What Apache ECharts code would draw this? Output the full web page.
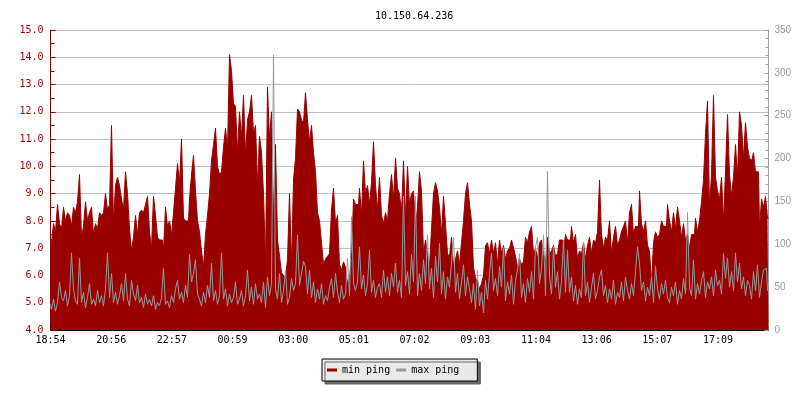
<!DOCTYPE html>
<html><head><meta charset="utf-8">
<script src="https://cdn.jsdelivr.net/npm/echarts@6.0.0/dist/echarts.min.js"></script>
<style>html,body{margin:0;padding:0;background:#fff}#c{width:800px;height:400px}</style>
</head><body><div id="c"></div>
<script>
const chartTitle = "10.150.64.236";
const seriesNames = ["min ping", "max ping"];
const tickLabels = ["18:54","20:56","22:57","00:59","03:00","05:01","07:02","09:03","11:04","13:06","15:07","17:09"];
const minutesPerSample = 4;
const minutesPerTick = 121.36;

// min ping (ms, left axis)
const minPing = [
7.3,7.2,7.9,7.6,8.6,7.9,7.7,8.5,8.0,8.3,
8.2,7.8,8.5,8.3,8.7,9.7,7.4,7.8,8.7,8.0,
8.3,8.5,7.5,7.9,7.7,8.3,8.2,8.3,9.0,8.4,
8.6,11.5,7.9,9.3,9.6,9.3,8.8,8.4,9.8,9.0,
7.7,6.9,7.4,8.2,7.5,8.3,8.4,8.3,8.6,8.9,
7.6,7.0,8.9,8.2,7.4,7.3,7.3,6.9,8.5,7.8,
8.0,7.5,8.3,9.2,10.1,9.4,11.0,8.1,8.0,8.0,
8.8,9.7,10.4,9.1,8.0,
7.6,6.9,6.3,7.5,8.2,9.0,10.2,10.8,11.4,10.0,
9.7,9.8,10.7,11.4,10.6,14.1,13.5,12.3,12.2,10.5,
12.0,11.1,12.6,10.4,11.7,12.0,12.6,11.2,11.5,9.3,
11.1,10.5,9.0,6.4,12.9,11.0,12.0,8.0,10.8,7.3,
6.7,6.1,6.0,5.9,6.6,9.0,6.4,9.5,10.3,12.1,
12.0,11.7,11.6,12.7,11.7,10.9,11.5,10.5,9.8,8.3,
8.0,7.2,6.4,6.6,6.7,6.8,8.4,9.2,7.9,8.2,
6.4,6.2,6.5,6.3,5.7,5.9,6.6,8.8,8.6,8.6,
9.2,8.2,10.2,9.0,9.3,8.6,9.4,10.9,9.3,8.4,
9.6,8.2,7.9,8.3,8.0,9.0,9.7,8.8,10.3,9.2,
9.0,8.3,10.2,8.1,10.0,8.6,9.0,9.1,7.8,8.5,
9.8,9.1,6.8,7.3,6.8,6.3,7.7,9.0,9.4,9.1,
8.5,7.5,8.9,7.9,6.8,6.7,7.4,6.3,6.6,6.9,
6.4,7.2,8.0,9.0,9.4,8.6,8.0,6.3,5.9,5.8,
5.5,5.7,6.0,7.1,7.2,6.8,7.3,6.8,7.2,6.4,
7.3,6.8,7.1,6.6,6.9,7.0,7.3,7.0,6.7,6.3,
6.6,6.4,6.5,7.4,7.2,7.6,7.8,6.8,7.0,6.6,
7.2,7.3,6.8,6.5,7.4,6.8,6.9,7.1,6.7,6.8,
7.3,7.3,6.9,7.5,7.3,
7.3,7.8,7.2,7.5,6.6,6.9,6.8,7.2,6.6,7.1,
7.4,6.8,7.3,7.2,7.6,9.5,7.5,7.0,7.4,7.3,
8.0,6.8,7.4,7.8,7.1,7.3,7.6,7.8,8.0,7.2,
8.3,8.6,7.5,7.8,7.8,9.1,7.9,7.6,8.0,7.1,
6.9,5.7,7.2,7.6,7.4,7.5,8.0,7.8,7.8,8.6,
8.0,7.6,8.3,7.7,8.5,8.0,7.4,7.9,7.3,7.5,
7.0,7.5,7.5,8.1,7.6,8.0,8.7,9.5,11.2,12.4,
8.5,9.7,12.6,9.6,9.1,8.8,9.6,8.0,9.8,11.9,
9.7,8.9,9.6,10.8,9.6,12.0,11.5,10.3,11.6,10.7,
10.3,10.2,10.5,9.8,9.8,7.7,8.8,8.5,8.9,8.1
];

// max ping (ms, right axis)
const maxPing = [
30,24,36,22,32,56,38,34,46,28,
40,90,48,34,30,84,32,44,26,38,
54,30,36,28,46,32,40,28,48,90,
38,66,32,44,30,40,54,34,66,36,
28,58,42,34,52,32,38,26,42,30,
36,28,40,24,32,28,38,72,30,34,
26,40,32,48,58,36,44,32,52,38,
88,56,66,82,42,
36,28,44,32,52,38,78,34,46,30,
40,90,36,48,28,42,32,38,56,30,
36,46,28,40,70,34,50,30,54,36,
42,32,56,26,62,40,54,321,48,36,
66,32,46,70,30,38,60,46,54,111,
52,66,80,74,42,70,38,56,32,48,
36,54,30,40,34,50,60,38,66,44,
32,52,36,42,84,40,132,54,46,56,
97,48,64,40,54,93,44,58,38,50,
54,38,70,44,62,40,66,50,78,44,
58,38,156,52,68,42,88,56,156,40,
66,46,82,54,111,48,72,38,86,56,
101,42,68,36,62,50,78,108,44,66,
36,56,76,40,62,48,32,54,24,70,
28,44,20,58,36,66,90,46,60,40,
74,50,96,34,56,42,64,30,58,70,
89,38,54,32,60,44,68,36,97,108,
54,72,111,40,185,62,42,97,50,68,
36,58,105,44,93,
44,62,34,52,30,48,38,102,40,56,
32,50,66,36,46,62,70,40,52,32,
48,36,58,30,44,38,56,34,62,46,
36,54,40,68,97,78,46,56,34,50,
40,62,32,74,48,36,54,42,58,38,
32,50,40,56,30,46,36,60,42,137,
50,40,82,36,54,42,58,68,38,56,
48,62,40,70,52,58,42,89,60,84,
50,68,46,90,56,78,48,62,40,58,
52,36,68,46,76,38,56,70,72,46
];

const mono = 'DejaVu Sans Mono';
const minData = minPing.map((v, i) => [i * minutesPerSample, v]);
const maxData = maxPing.map((v, i) => [i * minutesPerSample, v]);
const tickValues = tickLabels.map((_, i) => i * minutesPerTick);

const chart = echarts.init(document.getElementById('c'), null, {renderer: 'canvas'});
chart.setOption({
  animation: false,
  title: {
    text: chartTitle, left: 370, top: 6,
    textStyle: {fontFamily: mono, fontSize: 10, fontWeight: 'normal', color: '#000'}
  },
  grid: {left: 50.5, right: 31.5, top: 30, bottom: 70},
  legend: {
    data: seriesNames, left: 322, top: 359, orient: 'horizontal',
    padding: [6, 18, 6, 5], itemGap: 6, itemWidth: 10, itemHeight: 3, icon: 'rect',
    backgroundColor: '#e9e9e9', borderColor: '#000', borderWidth: 1, borderRadius: 0,
    shadowColor: '#666', shadowOffsetX: 3, shadowOffsetY: 3, shadowBlur: 0,
    textStyle: {fontFamily: mono, fontSize: 10, color: '#000'}
  },
  xAxis: {
    type: 'value', min: 0, max: (minPing.length - 1) * minutesPerSample,
    axisLine: {onZero: false, lineStyle: {color: '#000'}},
    axisTick: {inside: true, length: 5, customValues: tickValues, lineStyle: {color: '#000'}},
    axisLabel: {
      customValues: tickValues,
      formatter: v => tickLabels[Math.round(v / minutesPerTick)] || '',
      margin: 5, fontFamily: mono, fontSize: 10, color: '#000'
    },
    splitLine: {show: false}
  },
  yAxis: [{
    type: 'value', min: 4, max: 15, interval: 1, position: 'left',
    axisLine: {show: true, lineStyle: {color: '#990000'}},
    axisTick: {show: true, inside: true, length: 5, lineStyle: {color: '#990000'}},
    minorTick: {show: true, splitNumber: 2, length: 4, lineStyle: {color: '#990000'}},
    axisLabel: {formatter: v => v.toFixed(1), color: '#990000', fontFamily: mono, fontSize: 10, margin: 7},
    splitLine: {show: true, lineStyle: {color: '#c0c0c0'}}
  }, {
    type: 'value', min: 0, max: 350, interval: 50, position: 'right',
    axisLine: {show: true, lineStyle: {color: '#a0a0a0'}},
    axisTick: {show: true, inside: true, length: 4, lineStyle: {color: '#a0a0a0'}},
    minorTick: {show: true, splitNumber: 5, length: 3, lineStyle: {color: '#a0a0a0'}},
    axisLabel: {color: '#999', fontFamily: 'Liberation Sans', fontSize: 10, margin: 6},
    splitLine: {show: false}
  }],
  series: [{
    name: seriesNames[0], type: 'line', yAxisIndex: 0, data: minData, step: 'middle',
    symbol: 'none', color: '#990000', silent: true, z: 2,
    lineStyle: {width: 1, color: '#990000'},
    areaStyle: {color: '#990000', opacity: 1, origin: 'start'}
  }, {
    name: seriesNames[1], type: 'line', yAxisIndex: 1, data: maxData, step: 'middle',
    symbol: 'none', color: '#999999', silent: true, z: 3,
    lineStyle: {width: 1, color: '#999999'}
  }]
});
</script>
</body></html>
